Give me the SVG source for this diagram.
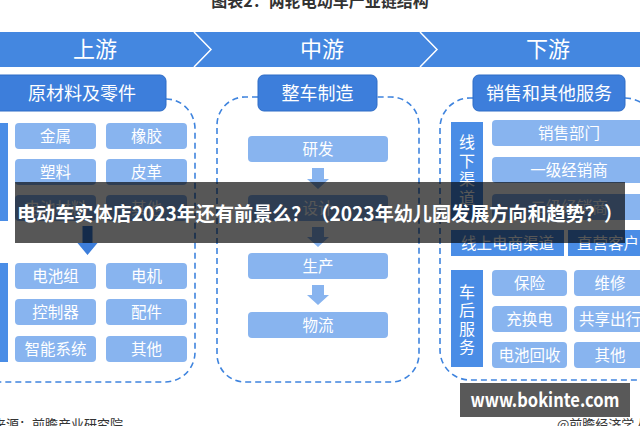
<svg xmlns="http://www.w3.org/2000/svg" width="640" height="426" viewBox="0 0 640 426">
<style>
text{font-family:"Noto Sans CJK SC","Noto Sans",sans-serif}
.band{fill:#4487e0}
.hdr{fill:#3d7edb;stroke:#2e6cc6;stroke-width:1}
.btn{fill:#88b4ef}
.bar{fill:#4a8de6}
.dash{fill:none;stroke:#3f84de;stroke-width:1.6;stroke-dasharray:6 4}
.w{fill:#fff;text-anchor:middle}
.h1{font-size:22px}
.h2{font-size:18px}
.b{font-size:15.5px}
.v{font-size:16px}
.arrL{fill:#88b4ef}
.arrD{fill:#3d7edb}
.dark{fill:#333}
</style>

<g id="title"><text x="320" y="7" class="dark" font-size="16" font-weight="bold" text-anchor="middle">图表2：两轮电动车产业链结构</text></g>

<g id="band">
<rect class="band" x="0" y="32" width="640" height="35"/>
<polyline points="194,32 211,49.5 194,67" fill="none" stroke="#fff" stroke-width="1.5"/>
<polyline points="420,32 437,49.5 420,67" fill="none" stroke="#fff" stroke-width="1.5"/>
<text class="w h1" x="95" y="57">上游</text>
<text class="w h1" x="322" y="57">中游</text>
<text class="w h1" x="548" y="57">下游</text>
</g>

<g id="connectors">
<path class="dash" d="M166,99 A29,30 0 0 1 195,129 V352 A30,30 0 0 1 165,382 H-10"/>
<path class="dash" d="M258,97 H245 A28,28 0 0 0 217,125 V354 A28,28 0 0 0 245,382 H391 A28,28 0 0 0 419,354 V125 A28,28 0 0 0 391,97 H377"/>
<path class="dash" d="M473,98 H470 A30,30 0 0 0 440,128 V350 A30,30 0 0 0 470,380 H660"/>
<path class="dash" d="M625,98 A30,30 0 0 1 655,128"/>
<path class="arrD" d="M82.5,226 H92.5 V243 H97.5 L87.5,255 L77.5,243 H82.5 Z"/>
<path class="arrL" d="M312,168 H324 V179 H329 L318,189 L307,179 H312 Z"/>
<path class="arrL" d="M312,227 H324 V237 H329 L318,247 L307,237 H312 Z"/>
<path class="arrL" d="M312,285 H324 V295 H329 L318,305 L307,295 H312 Z"/>
</g>

<g id="upstream">
<rect class="hdr" x="-6" y="75" width="172" height="36" rx="6"/>
<text class="w h2" x="82" y="100">原材料及零件</text>
<rect class="bar" x="-20" y="123" width="28" height="98"/>
<rect class="bar" x="-20" y="263" width="28" height="99"/>
<g id="u-jinshu"><rect class="btn" x="15" y="123" width="81" height="26" rx="4"/><text class="w b" x="55.5" y="141.5">金属</text></g>
<g id="u-xiangjiao"><rect class="btn" x="106" y="123" width="81" height="26" rx="4"/><text class="w b" x="146.5" y="141.5">橡胶</text></g>
<g id="u-suliao"><rect class="btn" x="15" y="159" width="81" height="26" rx="4"/><text class="w b" x="55.5" y="177.5">塑料</text></g>
<g id="u-pige"><rect class="btn" x="106" y="159" width="81" height="26" rx="4"/><text class="w b" x="146.5" y="177.5">皮革</text></g>
<g id="u-dianchicailiao"><rect class="btn" x="15" y="195" width="81" height="26" rx="4"/><text class="w b" x="55.5" y="213.5">电池材料</text></g>
<g id="u-qita1"><rect class="btn" x="106" y="195" width="81" height="26" rx="4"/><text class="w b" x="146.5" y="213.5">其他</text></g>
<g id="u-dianchizu"><rect class="btn" x="15" y="263" width="81" height="26" rx="4"/><text class="w b" x="55.5" y="281.5">电池组</text></g>
<g id="u-dianji"><rect class="btn" x="106" y="263" width="81" height="26" rx="4"/><text class="w b" x="146.5" y="281.5">电机</text></g>
<g id="u-kongzhiqi"><rect class="btn" x="15" y="299" width="81" height="26" rx="4"/><text class="w b" x="55.5" y="317.5">控制器</text></g>
<g id="u-peijian"><rect class="btn" x="106" y="299" width="81" height="26" rx="4"/><text class="w b" x="146.5" y="317.5">配件</text></g>
<g id="u-zhineng"><rect class="btn" x="15" y="336" width="81" height="26" rx="4"/><text class="w b" x="55.5" y="354.5">智能系统</text></g>
<g id="u-qita2"><rect class="btn" x="106" y="336" width="81" height="26" rx="4"/><text class="w b" x="146.5" y="354.5">其他</text></g>
</g>

<g id="midstream">
<rect class="hdr" x="258" y="75" width="119" height="36" rx="6"/>
<text class="w h2" x="317.5" y="100">整车制造</text>
<g id="m-yanfa"><rect class="btn" x="248" y="136" width="140" height="26" rx="4"/><text class="w b" x="318" y="154.5">研发</text></g>
<g id="m-sheji"><rect class="btn" x="248" y="195" width="140" height="26" rx="4"/><text class="w b" x="318" y="213.5">设计</text></g>
<g id="m-shengchan"><rect class="btn" x="248" y="253" width="140" height="26" rx="4"/><text class="w b" x="318" y="271.5">生产</text></g>
<g id="m-wuliu"><rect class="btn" x="248" y="312" width="140" height="26" rx="4"/><text class="w b" x="318" y="330.5">物流</text></g>
</g>

<g id="downstream">
<rect class="hdr" x="473" y="75" width="152" height="36" rx="6"/>
<text class="w h2" x="549" y="100">销售和其他服务</text>
<g id="d-xianxia"><rect class="bar" x="451" y="122" width="32" height="98"/>
<text class="w v" x="467" y="148">线</text><text class="w v" x="467" y="166.5">下</text><text class="w v" x="467" y="185">渠</text><text class="w v" x="467" y="203.5">道</text></g>
<g id="d-xiaoshou"><rect class="btn" x="492" y="120" width="156" height="26" rx="4"/><text class="w b" x="569" y="138.5">销售部门</text></g>
<g id="d-yiji"><rect class="btn" x="492" y="157" width="156" height="26" rx="4"/><text class="w b" x="569" y="175.5">一级经销商</text></g>
<g id="d-erji"><rect class="btn" x="492" y="194" width="156" height="26" rx="4"/><text class="w b" x="569" y="212.5">二级经销商</text></g>
<g id="d-xianshang"><rect class="bar" x="451" y="230" width="113" height="26"/><text class="w b" x="507.5" y="248.5">线上电商渠道</text></g>
<g id="d-zhiying"><rect class="bar" x="568" y="230" width="80" height="26"/><text class="w b" x="608" y="248.5">直营客户</text></g>
<g id="d-chehou"><rect class="bar" x="451" y="270" width="32" height="97"/>
<text class="w v" x="467" y="297.5">车</text><text class="w v" x="467" y="316">后</text><text class="w v" x="467" y="334.5">服</text><text class="w v" x="467" y="353">务</text></g>
<g id="d-baoxian"><rect class="btn" x="492" y="270" width="75" height="26" rx="4"/><text class="w b" x="529.5" y="288.5">保险</text></g>
<g id="d-weixiu"><rect class="btn" x="574" y="270" width="74" height="26" rx="4"/><text class="w b" x="610" y="288.5">维修</text></g>
<g id="d-chonghuan"><rect class="btn" x="492" y="306" width="75" height="26" rx="4"/><text class="w b" x="529.5" y="324.5">充换电</text></g>
<g id="d-gongxiang"><rect class="btn" x="574" y="306" width="74" height="26" rx="4"/><text class="w b" x="610" y="324.5">共享出行</text></g>
<g id="d-huishou"><rect class="btn" x="492" y="342" width="75" height="26" rx="4"/><text class="w b" x="529.5" y="360.5">电池回收</text></g>
<g id="d-qita"><rect class="btn" x="574" y="342" width="74" height="26" rx="4"/><text class="w b" x="610" y="360.5">其他</text></g>
</g>

<g id="footer">
<text x="-7" y="429" class="dark" font-size="13">来源：前瞻产业研究院</text>
<text x="557" y="429" class="dark" font-size="13">@前瞻经济学人</text>
</g>

<g id="overlay">
<rect x="15" y="182" width="610" height="61" fill="#000" fill-opacity="0.66"/>
<text x="17" y="221" fill="#fff" font-size="19.5" font-weight="bold" textLength="606" lengthAdjust="spacingAndGlyphs">电动车实体店2023年还有前景么？（2023年幼儿园发展方向和趋势？）</text>
<rect x="460" y="383" width="170" height="34" fill="#595959"/>
<text x="545" y="407" fill="#fff" font-family="Open Sans,DejaVu Sans,sans-serif" font-size="19" font-weight="bold" text-anchor="middle" textLength="149" lengthAdjust="spacingAndGlyphs">www.bokinte.com</text>
</g>
</svg>
